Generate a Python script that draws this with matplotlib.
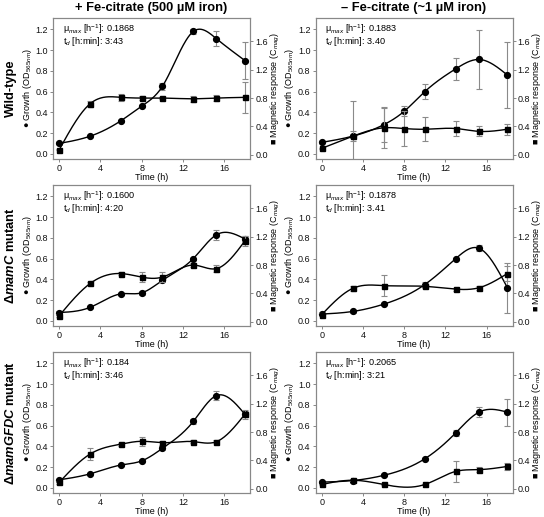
import numpy as np
import matplotlib
matplotlib.use("Agg")
import matplotlib.pyplot as plt

plt.rcParams['font.family'] = ['Liberation Sans', 'DejaVu Sans']
plt.rcParams['mathtext.fontset'] = 'custom'
plt.rcParams['mathtext.rm'] = 'Liberation Sans'
plt.rcParams['mathtext.it'] = 'Liberation Sans:italic'
plt.rcParams['mathtext.bf'] = 'Liberation Sans:bold'
plt.rcParams['mathtext.bfit'] = 'Liberation Sans:bold:italic'

# --- data ---
t_full = [0, 3, 6, 8, 10, 13, 15.25, 18]
t_short = [0, 3, 6, 10, 13, 15.25, 18]

col_titles = ['+ Fe-citrate (500 µM iron)', '– Fe-citrate (~1 µM iron)']
row_titles = ['Wild-type', 'Δ$\\mathbfit{mamC}$ mutant', 'Δ$\\mathbfit{mamGFDC}$ mutant']

# wild-type, + iron
wt_fe_growth = [0.10, 0.17, 0.32, 0.46, 0.65, 1.18, 1.11, 0.90]
wt_fe_growth_err = [0.01, 0.01, 0.01, 0.01, 0.03, 0.02, 0.07, 0.18]
wt_fe_mag = [0.07, 0.72, 0.81, 0.80, 0.80, 0.79, 0.80, 0.81]
wt_fe_mag_err = [0.01, 0.04, 0.05, 0.03, 0.02, 0.04, 0.04, 0.22]

# wild-type, - iron
wt_lo_growth = [0.11, 0.17, 0.28, 0.41, 0.60, 0.82, 0.91, 0.76]
wt_lo_growth_err = [0.01, 0.05, 0.17, 0.05, 0.07, 0.105, 0.28, 0.32]
wt_lo_mag = [0.09, 0.26, 0.38, 0.37, 0.36, 0.37, 0.33, 0.36]
wt_lo_mag_err = [0.01, 0.5, 0.28, 0.25, 0.17, 0.10, 0.07, 0.08]

# mamC, + iron
c_fe_growth = [0.08, 0.13, 0.26, 0.27, 0.39, 0.60, 0.83, 0.79]
c_fe_growth_err = [0.01, 0.01, 0.01, 0.02, 0.02, 0.01, 0.05, 0.03]
c_fe_mag = [0.085, 0.54, 0.68, 0.63, 0.63, 0.80, 0.75, 1.14]
c_fe_mag_err = [0.02, 0.02, 0.02, 0.07, 0.07, 0.03, 0.05, 0.07]

# mamC, - iron
c_lo_growth = [0.065, 0.09, 0.16, 0.35, 0.60, 0.70, 0.32]
c_lo_growth_err = [0.01, 0.01, 0.01, 0.02, 0.01, 0.03, 0.24]
c_lo_mag = [0.10, 0.47, 0.51, 0.50, 0.46, 0.48, 0.68]
c_lo_mag_err = [0.02, 0.03, 0.15, 0.02, 0.02, 0.03, 0.10]

# mamGFDC, + iron
g_fe_growth = [0.077, 0.135, 0.22, 0.26, 0.38, 0.64, 0.89, 0.71]
g_fe_growth_err = [0.01, 0.01, 0.01, 0.01, 0.02, 0.02, 0.04, 0.03]
g_fe_mag = [0.09, 0.49, 0.63, 0.67, 0.65, 0.665, 0.665, 1.05]
g_fe_mag_err = [0.02, 0.09, 0.02, 0.06, 0.03, 0.02, 0.02, 0.06]

# mamGFDC, - iron
g_lo_growth = [0.055, 0.07, 0.12, 0.28, 0.53, 0.73, 0.73]
g_lo_growth_err = [0.01, 0.01, 0.01, 0.01, 0.03, 0.05, 0.13]
g_lo_mag = [0.06, 0.12, 0.06, 0.06, 0.245, 0.27, 0.315]
g_lo_mag_err = [0.01, 0.01, 0.01, 0.01, 0.15, 0.04, 0.05]

mu_max = ['0.1868', '0.1883', '0.1600', '0.1878', '0.184', '0.2065']
t_d = ['3:43', '3.40', '4:20', '3.41', '3:46', '3:21']

panels = [
    (t_full, wt_fe_growth, wt_fe_growth_err, wt_fe_mag, wt_fe_mag_err),
    (t_full, wt_lo_growth, wt_lo_growth_err, wt_lo_mag, wt_lo_mag_err),
    (t_full, c_fe_growth, c_fe_growth_err, c_fe_mag, c_fe_mag_err),
    (t_short, c_lo_growth, c_lo_growth_err, c_lo_mag, c_lo_mag_err),
    (t_full, g_fe_growth, g_fe_growth_err, g_fe_mag, g_fe_mag_err),
    (t_short, g_lo_growth, g_lo_growth_err, g_lo_mag, g_lo_mag_err),
]


def spline(x, y, n=200):
    # natural cubic spline through the points
    x = np.asarray(x, float)
    y = np.asarray(y, float)
    k = len(x)
    h = np.diff(x)
    A = np.zeros((k, k))
    b = np.zeros(k)
    A[0, 0] = A[-1, -1] = 1
    for i in range(1, k - 1):
        A[i, i - 1] = h[i - 1]
        A[i, i] = 2 * (h[i - 1] + h[i])
        A[i, i + 1] = h[i]
        b[i] = 6 * ((y[i + 1] - y[i]) / h[i] - (y[i] - y[i - 1]) / h[i - 1])
    M = np.linalg.solve(A, b)
    xs = np.linspace(x[0], x[-1], n)
    j = np.clip(np.searchsorted(x, xs) - 1, 0, k - 2)
    dx = xs - x[j]
    hj = h[j]
    a = (M[j + 1] - M[j]) / (6 * hj)
    bb = M[j] / 2
    c = (y[j + 1] - y[j]) / hj - hj * (2 * M[j] + M[j + 1]) / 6
    return xs, y[j] + c * dx + bb * dx ** 2 + a * dx ** 3


W, H = 544, 517
fig = plt.figure(figsize=(W / 100, H / 100), dpi=100)

col_x = [53, 315.5]
row_y = [18, 185, 352]
aw, ah = 197, 141
spine_col = '#888888'
err_col = '#8a8a8a'

for idx, (t, g, ge, m, me) in enumerate(panels):
    r, c = divmod(idx, 2)
    ax = fig.add_axes([col_x[c] / W, 1 - (row_y[r] + ah) / H, aw / W, ah / H])
    ax2 = ax.twinx()

    ax.errorbar(t, g, yerr=ge, fmt='none', ecolor=err_col, elinewidth=0.8,
                capsize=2, capthick=0.8, zorder=2)
    ax2.errorbar(t, m, yerr=me, fmt='none', ecolor=err_col, elinewidth=0.8,
                 capsize=2, capthick=0.8, zorder=2)
    xs, ys = spline(t, g)
    ax.plot(xs, ys, color='black', lw=1.0, zorder=3)
    ax.plot(t, g, 'o', color='black', ms=4.2, zorder=4)
    xs, ys = spline(t, m)
    ax2.plot(xs, ys, color='black', lw=1.0, zorder=3)
    ax2.plot(t, m, 's', color='black', ms=3.6, zorder=4)

    ax.set_xlim(-0.6, 18.5)
    ax.set_ylim(-0.05, 1.31)
    ax2.set_ylim(-0.06, 1.93)
    ax.set_xticks([0, 4, 8, 12, 16])
    ax.set_yticks([0.0, 0.2, 0.4, 0.6, 0.8, 1.0, 1.2])
    ax.set_yticklabels(['0.0', '0.2', '0.4', '0.6', '0.8', '1.0', '1.2'])
    ax2.set_yticks([0.0, 0.4, 0.8, 1.2, 1.6])
    ax2.set_yticklabels(['0.0', '0.4', '0.8', '1.2', '1.6'])

    for a in (ax, ax2):
        for s in a.spines.values():
            s.set_color(spine_col)
            s.set_linewidth(0.8)
        a.tick_params(labelsize=6.5, length=2.5, width=0.7, color=spine_col,
                      pad=1.2, labelcolor='#111111')

    ax.set_xlabel('Time (h)', fontsize=6.5, labelpad=0)
    ax.set_ylabel('● Growth (OD$_{565nm}$)', fontsize=6.5, labelpad=1)
    ax2.set_ylabel('■ Magnetic response (C$_{mag}$)', fontsize=6.5,
                   rotation=90, labelpad=0.5)
    ax.text(0.05, 0.92, 'μ$_{max}$ [h$^{-1}$]: ' + mu_max[idx],
            transform=ax.transAxes, fontsize=6.6, va='center')
    ax.text(0.05, 0.83, 't$_{d}$ [h:min]: ' + t_d[idx],
            transform=ax.transAxes, fontsize=6.6, va='center')

for c in range(2):
    fig.text((col_x[c] + aw / 2) / W, 1 - 8 / H, col_titles[c],
             ha='center', va='center', fontsize=9.3, fontweight='bold')
for r in range(3):
    fig.text(11 / W, 1 - (row_y[r] + ah / 2) / H, row_titles[r],
             ha='center', va='center', rotation=90, fontsize=9.3,
             fontweight='bold')

fig.savefig('out.png', dpi=100)
